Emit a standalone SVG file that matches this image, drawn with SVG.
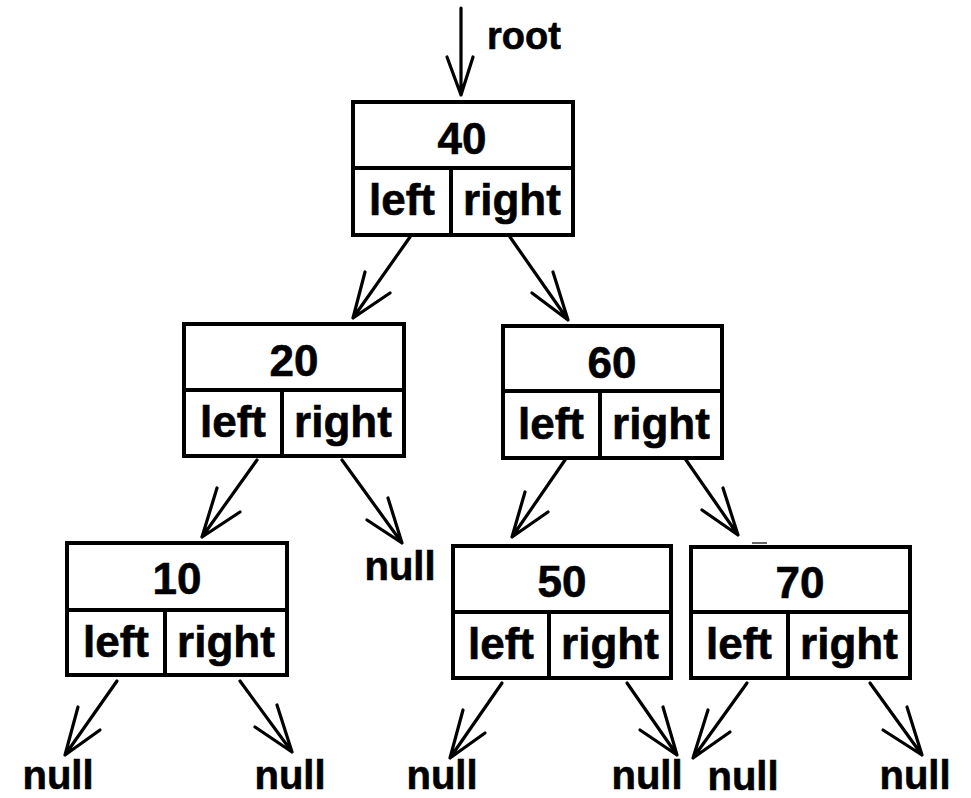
<svg xmlns="http://www.w3.org/2000/svg" width="971" height="798" viewBox="0 0 971 798">
  <style>
    .box { fill: #ffffff; stroke: #000000; stroke-width: 4; }
    .div { stroke: #000000; stroke-width: 4; }
    .edge { stroke: #000000; stroke-width: 3.2; fill: none; stroke-linecap: round; stroke-linejoin: round; }
    .t { font-family: "Liberation Sans", Arial, sans-serif; font-weight: bold; fill: #000000; stroke: #000000; stroke-width: 0.6; text-anchor: middle; }
    .num { font-size: 44px; }
    .lbl { font-size: 44px; }
    .null { font-size: 40px; }
  </style>
  <rect width="971" height="798" fill="#ffffff"/>

  <!-- connectors: shaft plus two barb strokes each -->
  <g id="connectors">
    <path class="edge" d="M461,8 L461,95 M447,57 L461,95 L473,57"/>
    <path class="edge" d="M410,237 L353,318 M365,272 L353,318 L390,293"/>
    <path class="edge" d="M510,237 L568,320 M553,272 L568,320 L532,293"/>
    <path class="edge" d="M257,460 L202,537 M217,488 L202,537 L240,512"/>
    <path class="edge" d="M342,460 L402,543 M388,498 L402,543 L367,520"/>
    <path class="edge" d="M565,460 L512,537 M525,492 L512,537 L548,512"/>
    <path class="edge" d="M686,460 L738,535 M723,488 L738,535 L702,510"/>
    <path class="edge" d="M117,681 L65,755 M78,707 L65,755 L100,730"/>
    <path class="edge" d="M240,681 L292,752 M277,705 L292,752 L255,727"/>
    <path class="edge" d="M502,683 L450,758 M463,710 L450,758 L485,733"/>
    <path class="edge" d="M627,683 L677,755 M663,707 L677,755 L640,730"/>
    <path class="edge" d="M747,683 L693,758 M708,710 L693,758 L730,732"/>
    <path class="edge" d="M870,683 L922,755 M907,707 L922,755 L883,730"/>
    <line x1="752" y1="543" x2="767" y2="543" stroke="#333" stroke-width="1.5"/>
  </g>

  <text class="t" x="487" y="49" font-size="38" style="text-anchor:start">root</text>

  <g id="node40">
    <rect class="box" x="353" y="102" width="220" height="133"/>
    <line class="div" x1="353" y1="168" x2="573" y2="168"/>
    <line class="div" x1="451" y1="168" x2="451" y2="235"/>
    <text class="t num" x="462" y="154">40</text>
    <text class="t lbl" x="402" y="215">left</text>
    <text class="t lbl" x="512" y="215">right</text>
  </g>

  <g id="node20">
    <rect class="box" x="184" y="324" width="220" height="132"/>
    <line class="div" x1="184" y1="390" x2="404" y2="390"/>
    <line class="div" x1="282" y1="390" x2="282" y2="456"/>
    <text class="t num" x="294" y="376">20</text>
    <text class="t lbl" x="233" y="437">left</text>
    <text class="t lbl" x="343" y="437">right</text>
  </g>

  <g id="node60">
    <rect class="box" x="503" y="326" width="219" height="132"/>
    <line class="div" x1="503" y1="391" x2="722" y2="391"/>
    <line class="div" x1="600" y1="391" x2="600" y2="458"/>
    <text class="t num" x="612" y="378">60</text>
    <text class="t lbl" x="551" y="439">left</text>
    <text class="t lbl" x="661" y="439">right</text>
  </g>

  <g id="node10">
    <rect class="box" x="67" y="543" width="220" height="132"/>
    <line class="div" x1="67" y1="610" x2="287" y2="610"/>
    <line class="div" x1="165" y1="610" x2="165" y2="675"/>
    <text class="t num" x="177" y="594">10</text>
    <text class="t lbl" x="116" y="657">left</text>
    <text class="t lbl" x="226" y="657">right</text>
  </g>

  <g id="node50">
    <rect class="box" x="453" y="546" width="218" height="132"/>
    <line class="div" x1="453" y1="612" x2="671" y2="612"/>
    <line class="div" x1="549" y1="612" x2="549" y2="678"/>
    <text class="t num" x="562" y="597">50</text>
    <text class="t lbl" x="501" y="659">left</text>
    <text class="t lbl" x="610" y="659">right</text>
  </g>

  <g id="node70">
    <rect class="box" x="691" y="547" width="219" height="131"/>
    <line class="div" x1="691" y1="612" x2="910" y2="612"/>
    <line class="div" x1="788" y1="612" x2="788" y2="678"/>
    <text class="t num" x="800" y="598">70</text>
    <text class="t lbl" x="739" y="659">left</text>
    <text class="t lbl" x="849" y="659">right</text>
  </g>

  <g id="nulls">
    <text class="t null" x="400" y="580">null</text>
    <text class="t null" x="58" y="789">null</text>
    <text class="t null" x="290" y="789">null</text>
    <text class="t null" x="442" y="789">null</text>
    <text class="t null" x="647" y="789">null</text>
    <text class="t null" x="743" y="790">null</text>
    <text class="t null" x="915" y="789">null</text>
  </g>
</svg>
